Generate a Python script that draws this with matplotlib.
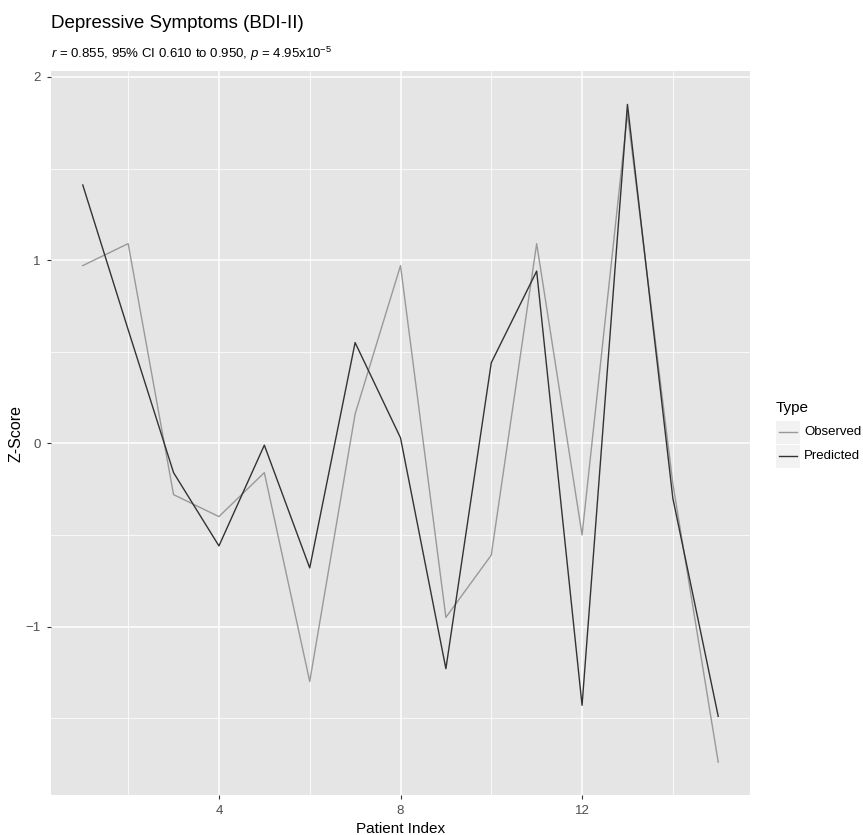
import matplotlib
matplotlib.use("Agg")
import matplotlib.pyplot as plt
from matplotlib.lines import Line2D
from matplotlib.patches import Rectangle

plt.rcParams['font.family'] = ['Liberation Sans', 'DejaVu Sans']
plt.rcParams['mathtext.fontset'] = 'custom'
plt.rcParams['mathtext.rm'] = 'Liberation Sans'
plt.rcParams['mathtext.it'] = 'Liberation Sans:italic'

# Datos
patient_index = list(range(1, 16))
observed = [0.97, 1.09, -0.28, -0.40, -0.16, -1.30, 0.16, 0.97, -0.95, -0.61,
            1.09, -0.50, 1.80, -0.22, -1.74]
predicted = [1.41, 0.62, -0.16, -0.56, -0.01, -0.68, 0.55, 0.03, -1.23, 0.44,
             0.94, -1.43, 1.85, -0.30, -1.49]
x_ticks = [4, 8, 12]
y_ticks = [-1, 0, 1, 2]

obs_color = "#999999"
pred_color = "#333333"

fig = plt.figure(figsize=(8.63, 8.35), dpi=100)
ax = fig.add_axes([51 / 863, 1 - 795 / 835, (750 - 51) / 863, (795 - 71.5) / 835])
ax.set_facecolor("#E5E5E5")
for s in ax.spines.values():
    s.set_visible(False)

ax.plot(patient_index, observed, color=obs_color, lw=1.0, zorder=3)
ax.plot(patient_index, predicted, color=pred_color, lw=1.0, zorder=4)

# límites con expansión tipo ggplot (5%)
xr = max(patient_index) - min(patient_index)
ax.set_xlim(min(patient_index) - 0.05 * xr, max(patient_index) + 0.05 * xr)
allv = observed + predicted
yr = max(allv) - min(allv)
ax.set_ylim(min(allv) - 0.05 * yr, max(allv) + 0.05 * yr)

ax.set_xticks(x_ticks)
ax.set_yticks(y_ticks)
ax.set_xticks([2, 6, 10, 14], minor=True)
ax.set_yticks([-1.5, -0.5, 0.5, 1.5], minor=True)
ax.grid(True, which="major", color="white", lw=1.1)
ax.grid(True, which="minor", color="white", lw=0.55)
ax.set_axisbelow(True)
ax.tick_params(which="major", length=3, color="#333333", labelsize=9.5,
               labelcolor="#4D4D4D", pad=4.5)
ax.tick_params(which="minor", length=0)

ax.set_xlabel("Patient Index", fontsize=11, labelpad=3)
ax.set_ylabel("Z-Score", fontsize=11.5, labelpad=1)

fig.text(51 / 863, 1 - 24 / 835, "Depressive Symptoms (BDI-II)", fontsize=13.5,
         va="center", ha="left")
fig.text(51 / 863, 1 - 54 / 835,
         r"$r$ = 0.855, 95% CI 0.610 to 0.950, $p$ = 4.95x10$^{-5}$",
         fontsize=9.5, va="center", ha="left")

# leyenda manual estilo ggplot
fig.text(776 / 863, 1 - 408 / 835, "Type", fontsize=11, va="center", ha="left")
for i, (lab, col) in enumerate([("Observed", obs_color), ("Predicted", pred_color)]):
    yc = 432 + i * 24
    fig.add_artist(Rectangle((776 / 863, 1 - (yc + 11.5) / 835), 24 / 863, 23 / 835,
                             transform=fig.transFigure, facecolor="#F2F2F2",
                             edgecolor="none"))
    fig.add_artist(Line2D([779 / 863, 797 / 863], [1 - yc / 835, 1 - yc / 835],
                          transform=fig.transFigure, color=col, lw=1.0))
    fig.text(804 / 863, 1 - yc / 835, lab, fontsize=9.5, va="center", ha="left")

fig.savefig("out.png", dpi=100)
